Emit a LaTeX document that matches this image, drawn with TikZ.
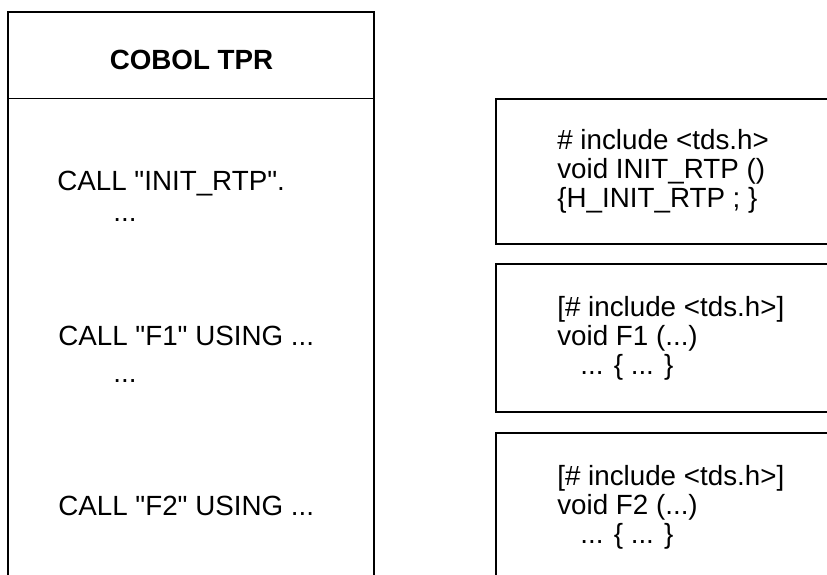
\documentclass[tikz,border=0pt]{standalone}
\usepackage{fontspec}
\setmainfont{Liberation Sans}[Ligatures=TeXOff]
\usetikzlibrary{positioning}
\definecolor{CLN}{RGB}{0,0,0}
\tikzset{
  txt/.style={font=\fontsize{15.8}{19}\selectfont,anchor=base west,inner sep=0pt},
  boxln/.style={CLN,line width=0.9pt}
}
\begin{document}
\begin{tikzpicture}
  \useasboundingbox (0.0000cm,0.0000cm) rectangle (16.5400cm,11.5000cm);
  % COBOL side
  \draw[boxln] (0.1600cm,-0.2000cm) -- (0.1600cm,11.2600cm) -- (7.4800cm,11.2600cm) -- (7.4800cm,-0.2000cm);
  \draw[boxln] (0.1600cm,9.5300cm) -- (7.4800cm,9.5300cm);
  \node[txt,anchor=base,font=\fontsize{15.8}{19}\selectfont\bfseries] (hdr) at (3.8300cm,10.1000cm) {COBOL TPR};
  \node[txt] (callinit) at (1.1400cm,7.6800cm) {CALL "INIT\_RTP".};
  \node[txt] (dotsinit) at (2.2600cm,7.0600cm) {...};
  \node[txt] (callfa) at (1.1600cm,4.5800cm) {CALL "F1" USING ...};
  \node[txt] (dotsfa) at (2.2600cm,3.8400cm) {...};
  \node[txt] (callfb) at (1.1600cm,1.1800cm) {CALL "F2" USING ...};
  % C side
  \draw[boxln] (16.8000cm,9.5200cm) -- (9.9200cm,9.5200cm) -- (9.9200cm,6.6200cm) -- (16.8000cm,6.6200cm);
  \node[txt] (inca) at (11.1400cm,8.5000cm) {\# include <tds.h>};
  \node[txt] (voida) at (11.1400cm,7.9200cm) {void INIT\_RTP ()};
  \node[txt] (bodya) at (11.1400cm,7.3400cm) {\{H\_INIT\_RTP ; \}};
  \draw[boxln] (16.8000cm,6.2200cm) -- (9.9200cm,6.2200cm) -- (9.9200cm,3.2600cm) -- (16.8000cm,3.2600cm);
  \node[txt] (incb) at (11.1400cm,5.1600cm) {[\# include <tds.h>]};
  \node[txt] (voidb) at (11.1400cm,4.5800cm) {void F1 (...)};
  \node[txt] (bodyb) at (11.6000cm,4.0000cm) {... \{ ... \}};
  \draw[boxln] (16.8000cm,2.8400cm) -- (9.9200cm,2.8400cm) -- (9.9200cm,-0.2000cm);
  \node[txt] (incc) at (11.1400cm,1.7800cm) {[\# include <tds.h>]};
  \node[txt] (voidc) at (11.1400cm,1.2000cm) {void F2 (...)};
  \node[txt] (bodyc) at (11.6000cm,0.6200cm) {... \{ ... \}};
\end{tikzpicture}
\end{document}
